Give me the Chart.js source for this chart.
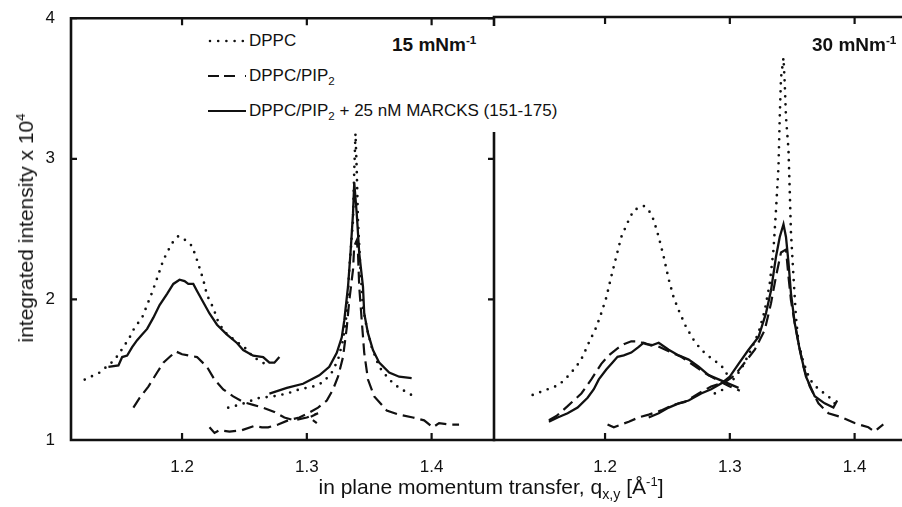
<!DOCTYPE html>
<html>
<head>
<meta charset="utf-8">
<script src="https://cdn.jsdelivr.net/npm/chart.js@4.4.0/dist/chart.umd.min.js"></script>
<style>
  html, body { margin: 0; padding: 0; background: #fff; }
  body { width: 902px; height: 507px; overflow: hidden; position: relative;
         font-family: "Liberation Sans", Arial, Helvetica, sans-serif; color: #111; }
  canvas { position: absolute; top: 0; }
  #left { left: 0; }
  #right { left: 424px; }
  .txt { position: absolute; white-space: nowrap; }
  sub { font-size: 0.68em; vertical-align: -0.32em; line-height: 0; }
  sup { font-size: 0.62em; vertical-align: 0.6em; line-height: 0; }
  #legend { position: absolute; left: 200px; top: 26px; width: 362px; height: 106px; background: #fff; }
  #legend .row { position: absolute; left: 8px; height: 20px; font-size: 17px; line-height: 20px; }
  #legend svg { position: absolute; left: 0; top: 7px; }
  #legend span { position: absolute; left: 41px; top: 0; white-space: nowrap; }
  .press { font-size: 19px; font-weight: bold; line-height: 22px; top: 34px; }
  #xtitle { left: 191px; width: 600px; text-align: center; top: 475px; font-size: 21px; line-height: 24px; }
  #ytitle { left: 26px; top: 228px; font-size: 21px; line-height: 24px;
            transform: translate(-50%, -50%) rotate(-90deg); }
</style>
</head>
<body>
<canvas id="left" width="500" height="507"></canvas>
<canvas id="right" width="500" height="507"></canvas>

<div id="legend">
  <div class="row" style="top:5px">
    <svg width="40" height="6"><line x1="2" y1="3" x2="38" y2="3" stroke="#111" stroke-width="2.6" stroke-linecap="round" stroke-dasharray="0 8.2"/></svg>
    <span>DPPC</span>
  </div>
  <div class="row" style="top:40px">
    <svg width="40" height="6"><line x1="0" y1="3" x2="38" y2="3" stroke="#111" stroke-width="2.2" stroke-dasharray="11 5 11 10 1 10"/></svg>
    <span>DPPC/PIP<sub>2</sub></span>
  </div>
  <div class="row" style="top:75px">
    <svg width="40" height="6"><line x1="0" y1="3" x2="38" y2="3" stroke="#111" stroke-width="2.2"/></svg>
    <span>DPPC/PIP<sub>2</sub> + 25 nM MARCKS (151-175)</span>
  </div>
</div>

<div class="txt press" style="left:392px">15 mNm<sup>-1</sup></div>
<div class="txt press" style="left:812px">30 mNm<sup>-1</sup></div>
<div class="txt" id="xtitle">in plane momentum transfer, q<sub>x,y</sub> [Å<sup>-1</sup>]</div>
<div class="txt" id="ytitle">integrated intensity x 10<sup>4</sup></div>

<script>
// axis ranges and ticks
const qMin = 1.111;
const qMax = 1.45;
const qTicks = [1.2, 1.3, 1.4];
const yTicks = [1, 2, 3, 4];

// 15 mN/m panel, [q, intensity/1e4]
const dppc15a = [[1.122,1.43],[1.134,1.48],[1.146,1.57],[1.153,1.66],[1.158,1.73],[1.162,1.80],[1.168,1.87],[1.172,1.96],[1.176,2.05],[1.180,2.15],[1.185,2.28],[1.189,2.35],[1.192,2.40],[1.197,2.45],[1.203,2.42],[1.208,2.38],[1.212,2.28],[1.217,2.14],[1.220,2.03],[1.225,1.94],[1.229,1.84],[1.234,1.77],[1.242,1.71],[1.250,1.66],[1.257,1.59],[1.265,1.55],[1.270,1.51]];
const dppc15b = [[1.237,1.23],[1.246,1.25],[1.262,1.30],[1.273,1.31],[1.284,1.33],[1.294,1.36],[1.305,1.38],[1.313,1.41],[1.320,1.48],[1.325,1.57],[1.329,1.71],[1.332,1.90],[1.334,2.21],[1.337,2.56],[1.338,2.92],[1.339,3.18],[1.340,2.92],[1.341,2.56],[1.343,2.21],[1.345,1.94],[1.348,1.80],[1.352,1.66],[1.358,1.52],[1.366,1.43],[1.374,1.37],[1.384,1.32]];
const pip15a = [[1.161,1.23],[1.166,1.30],[1.173,1.38],[1.180,1.48],[1.185,1.55],[1.190,1.59],[1.195,1.63],[1.200,1.61],[1.206,1.60],[1.212,1.59],[1.220,1.52],[1.226,1.43],[1.233,1.36],[1.241,1.31],[1.249,1.27],[1.257,1.25],[1.265,1.23],[1.274,1.20],[1.282,1.16],[1.290,1.14],[1.300,1.16],[1.309,1.19],[1.302,1.16],[1.308,1.12]];
const pip15b = [[1.222,1.09],[1.226,1.05],[1.230,1.07],[1.238,1.06],[1.248,1.07],[1.258,1.10],[1.264,1.09],[1.269,1.09],[1.277,1.11],[1.285,1.14],[1.294,1.16],[1.301,1.19],[1.309,1.23],[1.316,1.28],[1.321,1.36],[1.325,1.45],[1.329,1.59],[1.332,1.80],[1.334,1.99],[1.337,2.21],[1.338,2.38],[1.340,2.42],[1.341,2.33],[1.342,2.09],[1.344,1.85],[1.346,1.62],[1.349,1.43],[1.354,1.31],[1.364,1.21],[1.374,1.18],[1.385,1.16],[1.394,1.14],[1.401,1.09],[1.406,1.12],[1.414,1.11],[1.422,1.11]];
const marcks15a = [[1.141,1.52],[1.149,1.53],[1.152,1.59],[1.156,1.60],[1.160,1.66],[1.164,1.71],[1.168,1.75],[1.172,1.79],[1.177,1.87],[1.182,1.96],[1.188,2.04],[1.193,2.11],[1.198,2.14],[1.202,2.13],[1.205,2.11],[1.209,2.11],[1.212,2.06],[1.217,1.98],[1.222,1.90],[1.228,1.82],[1.236,1.75],[1.244,1.69],[1.249,1.64],[1.257,1.60],[1.265,1.59],[1.270,1.55],[1.274,1.55],[1.278,1.59]];
const marcks15b = [[1.270,1.33],[1.284,1.37],[1.297,1.40],[1.310,1.46],[1.318,1.52],[1.324,1.62],[1.328,1.73],[1.330,1.85],[1.333,2.09],[1.335,2.33],[1.337,2.61],[1.338,2.83],[1.340,2.61],[1.342,2.33],[1.345,2.09],[1.346,1.90],[1.349,1.76],[1.353,1.64],[1.358,1.55],[1.366,1.48],[1.374,1.45],[1.384,1.44]];

// 30 mN/m panel
const dppc30a = [[1.142,1.32],[1.154,1.36],[1.163,1.39],[1.170,1.45],[1.177,1.52],[1.182,1.59],[1.187,1.69],[1.193,1.80],[1.197,1.90],[1.201,2.01],[1.205,2.16],[1.209,2.30],[1.213,2.44],[1.219,2.56],[1.223,2.63],[1.231,2.66],[1.235,2.63],[1.239,2.56],[1.243,2.44],[1.247,2.30],[1.251,2.14],[1.255,2.01],[1.259,1.92],[1.265,1.80],[1.271,1.71],[1.277,1.64],[1.285,1.58],[1.293,1.53],[1.299,1.45]];
const dppc30b = [[1.288,1.33],[1.295,1.36],[1.301,1.41],[1.309,1.50],[1.317,1.64],[1.323,1.76],[1.328,1.92],[1.332,2.11],[1.335,2.35],[1.337,2.63],[1.339,2.94],[1.340,3.29],[1.341,3.57],[1.343,3.71],[1.344,3.53],[1.345,3.29],[1.347,3.06],[1.348,2.77],[1.349,2.47],[1.351,2.16],[1.353,1.87],[1.355,1.69],[1.359,1.55],[1.364,1.43],[1.371,1.36],[1.379,1.31],[1.384,1.26]];
const pip30a = [[1.155,1.14],[1.161,1.17],[1.170,1.24],[1.181,1.33],[1.189,1.43],[1.197,1.54],[1.203,1.60],[1.210,1.65],[1.215,1.68],[1.221,1.70],[1.227,1.70],[1.233,1.68],[1.241,1.67],[1.251,1.63],[1.261,1.59],[1.271,1.53],[1.281,1.47],[1.291,1.42],[1.300,1.38],[1.308,1.35]];
const pip30b = [[1.202,1.11],[1.207,1.09],[1.219,1.13],[1.227,1.16],[1.235,1.18],[1.245,1.21],[1.255,1.25],[1.264,1.27],[1.275,1.33],[1.285,1.38],[1.296,1.41],[1.304,1.46],[1.312,1.55],[1.320,1.64],[1.328,1.78],[1.333,1.97],[1.337,2.16],[1.341,2.33],[1.345,2.35],[1.347,2.16],[1.349,1.99],[1.352,1.83],[1.355,1.69],[1.359,1.52],[1.364,1.38],[1.371,1.26],[1.379,1.19],[1.390,1.16],[1.400,1.12],[1.411,1.09],[1.416,1.06],[1.420,1.09],[1.423,1.11]];
const marcks30a = [[1.155,1.13],[1.162,1.16],[1.170,1.19],[1.178,1.23],[1.186,1.30],[1.191,1.36],[1.195,1.43],[1.201,1.50],[1.206,1.55],[1.210,1.59],[1.215,1.60],[1.221,1.62],[1.227,1.66],[1.231,1.69],[1.237,1.67],[1.243,1.69],[1.251,1.64],[1.259,1.60],[1.267,1.57],[1.275,1.52],[1.283,1.46],[1.291,1.43],[1.299,1.40],[1.307,1.37]];
const marcks30b = [[1.235,1.16],[1.243,1.19],[1.251,1.23],[1.259,1.26],[1.267,1.28],[1.277,1.33],[1.285,1.36],[1.293,1.40],[1.300,1.45],[1.307,1.54],[1.315,1.64],[1.323,1.73],[1.329,1.90],[1.333,2.06],[1.337,2.30],[1.340,2.44],[1.343,2.53],[1.345,2.44],[1.347,2.26],[1.349,2.04],[1.352,1.83],[1.356,1.64],[1.361,1.45],[1.368,1.31],[1.376,1.26],[1.383,1.23],[1.386,1.28]];

const FONT = '"Liberation Sans", Arial, Helvetica, sans-serif';
const INK = '#111';

// line styles
const dotted = { borderDash: [0, 8], borderCapStyle: 'round', borderWidth: 2.7 };
const dashed = { borderDash: [12, 6], borderWidth: 2.2 };
const solid = { borderWidth: 2.3 };

const toXY = pts => pts.map(p => ({ x: p[0], y: p[1] }));
const series = (pts, style) => Object.assign({ data: toXY(pts), borderColor: INK, pointRadius: 0, fill: false, tension: 0 }, style);

// box lines and inward ticks
const framePlugin = {
  id: 'frame',
  afterDatasetsDraw(chart, args, opts) {
    const { ctx, chartArea: a } = chart;
    const x = chart.scales.x, y = chart.scales.y;
    ctx.save();
    ctx.strokeStyle = INK;
    ctx.lineCap = 'square';
    ctx.lineWidth = 2.6;
    ctx.beginPath();
    ctx.moveTo(a.left, a.top); ctx.lineTo(a.right, a.top);
    ctx.moveTo(a.left, a.bottom); ctx.lineTo(a.right, a.bottom);
    if (opts.left) { ctx.moveTo(a.left, a.top); ctx.lineTo(a.left, a.bottom); }
    if (opts.right) { ctx.moveTo(a.right, a.top); ctx.lineTo(a.right, a.bottom); }
    ctx.stroke();
    ctx.lineWidth = 2.2;
    ctx.lineCap = 'butt';
    ctx.beginPath();
    qTicks.forEach(v => {
      const px = x.getPixelForValue(v);
      ctx.moveTo(px, a.bottom); ctx.lineTo(px, a.bottom - 7);
      ctx.moveTo(px, a.top); ctx.lineTo(px, a.top + 7);
    });
    yTicks.forEach(v => {
      const py = y.getPixelForValue(v);
      if (opts.left) { ctx.moveTo(a.left, py); ctx.lineTo(a.left + 6, py); }
      if (opts.right) { ctx.moveTo(a.right, py); ctx.lineTo(a.right - 6, py); }
    });
    ctx.stroke();
    ctx.restore();
  }
};

const panelOptions = (showY, padRight, yWidth, frame) => ({
  responsive: false,
  animation: false,
  events: [],
  layout: { padding: { left: 0, right: padRight, top: 17, bottom: 0 } },
  plugins: { legend: { display: false }, tooltip: { enabled: false }, frame: frame },
  scales: {
    x: {
      type: 'linear', min: qMin, max: qMax,
      grid: { display: false }, border: { display: false },
      afterBuildTicks: s => { s.ticks = qTicks.map(v => ({ value: v })); },
      afterFit: s => { s.height = 67; },
      ticks: { padding: 9, color: INK, font: { family: FONT, size: 17 }, maxRotation: 0, autoSkip: false,
               callback: v => v.toFixed(1) }
    },
    y: {
      type: 'linear', min: 1, max: 4,
      grid: { display: false }, border: { display: false },
      afterBuildTicks: s => { s.ticks = yTicks.map(v => ({ value: v })); },
      afterFit: s => { s.width = yWidth; },
      ticks: { display: showY, padding: 8, color: INK, font: { family: FONT, size: 17 },
               callback: v => String(v) }
    }
  }
});

new Chart(document.getElementById('left'), {
  type: 'line',
  data: {
    datasets: [
      series(dppc15a, dotted), series(dppc15b, dotted),
      series(pip15a, dashed), series(pip15b, dashed),
      series(marcks15a, solid), series(marcks15b, solid)
    ]
  },
  options: panelOptions(true, 6, 71, { left: true, right: true }),
  plugins: [framePlugin]
});

new Chart(document.getElementById('right'), {
  type: 'line',
  data: {
    datasets: [
      series(dppc30a, dotted), series(dppc30b, dotted),
      series(pip30a, dashed), series(pip30b, dashed),
      series(marcks30a, solid), series(marcks30b, solid)
    ]
  },
  options: panelOptions(false, 7, 70, { left: false, right: false }),
  plugins: [framePlugin]
});
</script>
</body>
</html>
